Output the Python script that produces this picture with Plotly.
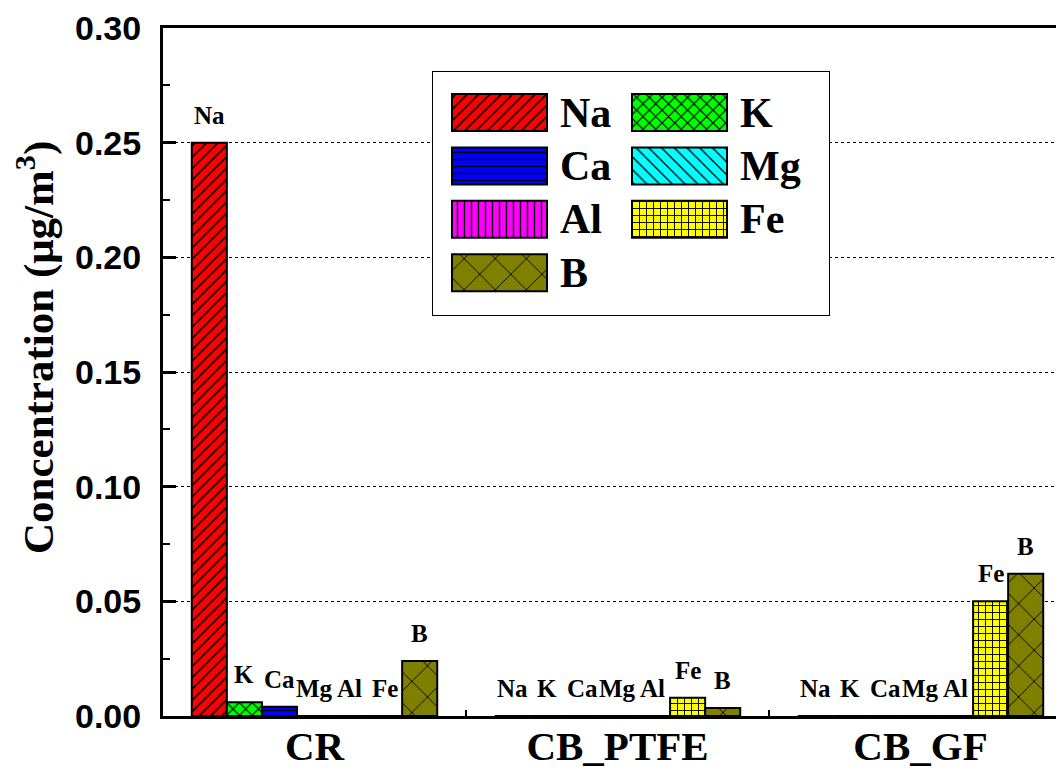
import plotly.graph_objects as go

# ---------------- data ----------------
categories = ["CR", "CB_PTFE", "CB_GF"]
elements = ["Na", "K", "Ca", "Mg", "Al", "Fe", "B"]
Na = [0.250, 0.0, 0.0]
K = [0.006, 0.0, 0.0]
Ca = [0.004, 0.0, 0.0]
Mg = [0.0, 0.0, 0.0]
Al = [0.0, 0.0, 0.0]
Fe = [0.0, 0.008, 0.050]
B = [0.024, 0.0035, 0.062]
series = [Na, K, Ca, Mg, Al, Fe, B]
y_ticks = [0.00, 0.05, 0.10, 0.15, 0.20, 0.25, 0.30]
y_title = "Concentration (μg/m<sup>3</sup>)"

# ---------------- styles ----------------
colors = ["#FF0000", "#00FF00", "#0000FF", "#00FFFF", "#FF00FF", "#FFFF00", "#808000"]
shapes_p = ["/", "x", "-", "\\", "|", "+", "x"]
sizes_p = [8, 9, 7, 9, 7, 7, 22]
solid_p = [0.2, 0.25, 0.2, 0.15, 0.2, 0.25, 0.08]

SERIF = "Liberation Serif, Times New Roman, serif"
SANS = "Liberation Sans, Arial, sans-serif"

OFF = 8                      # page body margin
W, H = 1064 - OFF, 771 - OFF
L, R, T, Bm = 163 - OFF, 0, 28 - OFF, 55
plot_w = W - L - R
plot_h = H - T - Bm
cat_px = 303.0
bargap = 0.19

def px_to_xpaper(px):        # page pixel -> paper fraction
    return (px - OFF - L) / plot_w

def px_to_ypaper(py):
    return (H - Bm - (py - OFF)) / plot_h

fig = go.Figure()

def pattern(c, sh, sz, so):
    return dict(shape=sh, size=sz, solidity=so, fgcolor="black", bgcolor=c,
                fillmode="replace")

for name, vals, c, sh, sz, so in zip(elements, series, colors, shapes_p, sizes_p, solid_p):
    fig.add_trace(go.Bar(
        name=name, x=categories, y=vals, showlegend=False,
        marker=dict(color=c, line=dict(color="black", width=2),
                    pattern=pattern(c, sh, sz, so)),
        xaxis="x", yaxis="y",
    ))

# bar labels
n = len(elements)
bw = (1 - bargap) / n
annotations = []
for j, (name, vals) in enumerate(zip(elements, series)):
    for i, v in enumerate(vals):
        annotations.append(dict(
            x=i + (j - (n - 1) / 2) * bw, y=v, xref="x", yref="y",
            text=name, showarrow=False, yanchor="bottom", xanchor="center",
            yshift=12,
            font=dict(family=SERIF, size=25, color="black", weight="bold"),
        ))

# y-axis title
annotations.append(dict(
    x=px_to_xpaper(35), y=px_to_ypaper(348), xref="paper", yref="paper",
    text=y_title, textangle=-90, showarrow=False,
    xanchor="center", yanchor="middle",
    font=dict(family=SERIF, size=43, color="black", weight="bold"),
))

# ---------------- custom legend (inset) ----------------
box_x0, box_x1 = 433, 829
box_y0, box_y1 = 72, 315
box_w, box_h = box_x1 - box_x0, box_y1 - box_y0
col_x = [19, 199]
lab_x = [125, 305]
row0, row_pitch = 40.5, 53.4
sw_w, sw_h = 95, 37

for k, (name, c, sh, sz, so) in enumerate(zip(elements, colors, shapes_p, sizes_p, solid_p)):
    r, cc = divmod(k, 2)
    yk = row0 + r * row_pitch
    fig.add_trace(go.Bar(
        orientation="h", base=[col_x[cc]], x=[sw_w], y=[yk], width=sw_h,
        offsetgroup="legend", showlegend=False, hoverinfo="skip",
        marker=dict(color=c, line=dict(color="black", width=2),
                    pattern=pattern(c, sh, sz, so)),
        xaxis="x2", yaxis="y2",
    ))
    annotations.append(dict(
        x=lab_x[cc], y=yk, xref="x2", yref="y2",
        text=name, showarrow=False, xanchor="left", yanchor="middle",
        font=dict(family=SERIF, size=42, color="black", weight="bold"),
    ))

fig.update_layout(
    width=W, height=H,
    margin=dict(l=L, r=R, t=T, b=Bm, autoexpand=False),
    paper_bgcolor="white", plot_bgcolor="white",
    barmode="group", bargap=bargap, bargroupgap=0,
    annotations=annotations,
    shapes=[dict(type="rect", xref="paper", yref="paper",
                 x0=px_to_xpaper(box_x0), x1=px_to_xpaper(box_x1),
                 y0=px_to_ypaper(box_y1), y1=px_to_ypaper(box_y0),
                 line=dict(color="black", width=2), fillcolor="white",
                 layer="below")],
    xaxis=dict(
        type="category", range=[-0.5, -0.5 + plot_w / cat_px],
        showline=True, linecolor="black", linewidth=3, mirror=True,
        ticks="inside", tickson="boundaries", ticklen=6, tickwidth=2, tickcolor="black",
        showgrid=False, zeroline=False,
        tickfont=dict(family=SERIF, size=41, color="black", weight="bold"),
        ticklabelstandoff=-8,
    ),
    yaxis=dict(
        range=[0, 0.30], tickvals=y_ticks, tickformat=".2f",
        showline=True, linecolor="black", linewidth=3,
        ticks="inside", ticklen=13, tickwidth=3, tickcolor="black",
        minor=dict(ticks="inside", ticklen=7, tickwidth=2, tickcolor="black",
                   dtick=0.025, showgrid=False),
        showgrid=True, gridcolor="black", gridwidth=1, griddash="dot",
        zeroline=False,
        tickfont=dict(family=SANS, size=34, color="black", weight="bold"),
        ticklabelstandoff=12,
    ),
    xaxis2=dict(domain=[px_to_xpaper(box_x0), px_to_xpaper(box_x1)],
                range=[0, box_w], visible=False, anchor="y2", fixedrange=True),
    yaxis2=dict(domain=[px_to_ypaper(box_y1), px_to_ypaper(box_y0)],
                range=[box_h, 0], visible=False, anchor="x2", fixedrange=True),
)

fig.write_html("out.html")
